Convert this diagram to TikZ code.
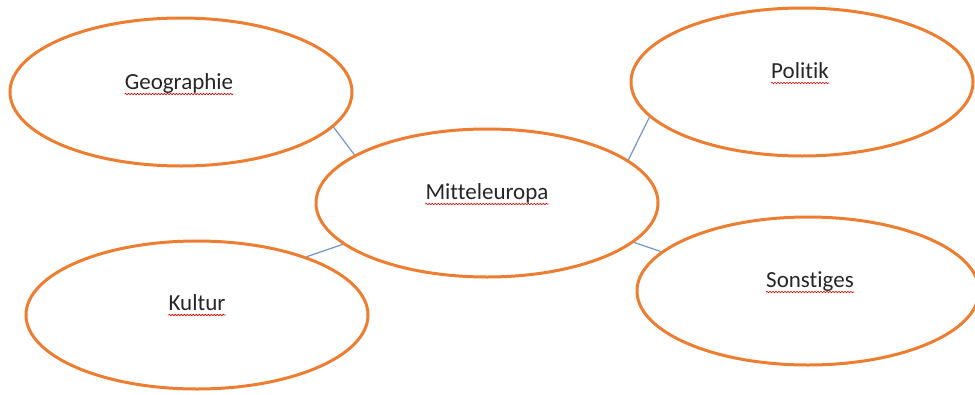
\documentclass[tikz,border=0pt]{standalone}
\usepackage{fontspec}
\setmainfont{Carlito}[Ligatures=CommonOff]
\usetikzlibrary{shapes.geometric,decorations.pathmorphing}
\definecolor{ora}{HTML}{ED7D31}
\definecolor{conn}{RGB}{112,150,204}
\definecolor{txt}{HTML}{262626}
\begin{document}
\begin{tikzpicture}[x=1pt,y=-1pt,
  bubble/.style={ellipse,draw=ora,line width=3pt,minimum width=342pt,minimum height=148pt,inner sep=0pt},
  lbl/.style={font=\fontsize{23}{27}\selectfont,text=txt,inner sep=0pt,anchor=base},
  link/.style={draw=conn,line width=1.2pt},
  squig/.style={draw=red!85!black,line width=0.6pt,decorate,decoration={snake,amplitude=0.8pt,segment length=3pt}}]
\useasboundingbox (0,0) rectangle (975,394);
% bubbles
\node[bubble] (geo) at (181,92) {};
\node[bubble] (pol) at (802,82) {};
\node[bubble] (mit) at (487,203) {};
\node[bubble] (kul) at (197,315) {};
\node[bubble] (son) at (808,291) {};
% labels
\node[lbl] (tgeo) at (179,89) {Geographie};
\node[lbl] (tpol) at (800,78) {Politik};
\node[lbl] (tmit) at (487,199) {Mitteleuropa};
\node[lbl] (tkul) at (197,310) {Kultur};
\node[lbl] (tson) at (810,287) {Sonstiges};
\foreach \t in {tgeo,tpol,tmit,tkul,tson}{
  \draw[squig] ([yshift=-5pt]\t.base west) -- ([yshift=-5pt]\t.base east);
}
% connectors
\draw[link] (geo.-13) -- (mit.160);
\draw[link] (pol.-167) -- (mit.17);
\draw[link] (kul.28) -- (mit.-164);
\draw[link] (son.165) -- (mit.-15);
\end{tikzpicture}
\end{document}
